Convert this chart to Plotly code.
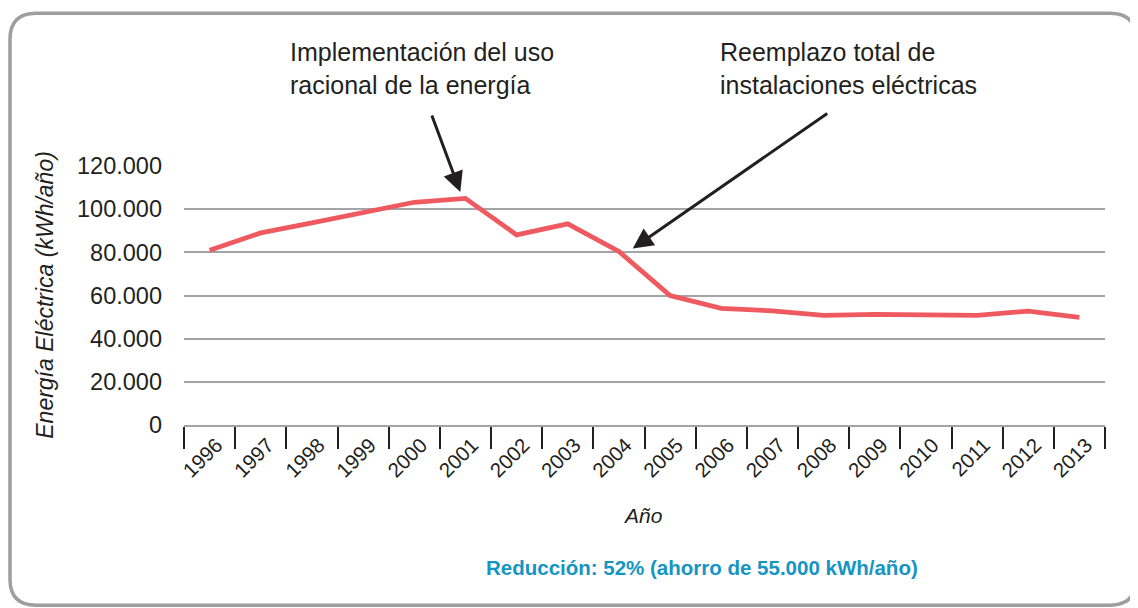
import plotly.graph_objects as go

years = [str(y) for y in range(1996, 2014)]
energy = [81000, 89000, 93600, 98400, 103200, 105000, 88100, 93200, 80400,
          60000, 54000, 52900, 50800, 51300, 50800, 50800, 52800, 49900]
y_ticks = [0, 20000, 40000, 60000, 80000, 100000, 120000]
y_tick_labels = ["0", "20.000", "40.000", "60.000", "80.000", "100.000", "120.000"]

W, H = 1138, 608
OFF = 8  # page offset of the figure inside the browser
# plot area in reference-pixel coordinates
PL, PR, PT, PB = 184, 1105, 166, 425.5
L, T = PL - OFF, PT - OFF
R = W - (PR - OFF)
B = H - (PB - OFF)
PW, PH = PR - PL, PB - PT

def px(x):
    return (x - PL) / PW

def py(y):
    return (PB - y) / PH

TXT = "#231f20"
GRID = "#a3a3a8"
FONT = "Liberation Sans"

fig = go.Figure()
fig.add_trace(go.Scatter(x=years, y=energy, mode="lines",
                         line=dict(color="#ef5a60", width=4.8), hoverinfo="skip"))

# rounded border (reference pixel coordinates)
x0, y0, x1, y1, r = 10, 13, 1136, 606, 26
path = (f"M {px(x0+r)},{py(y0)} L {px(x1-r)},{py(y0)} Q {px(x1)},{py(y0)} {px(x1)},{py(y0+r)} "
        f"L {px(x1)},{py(y1-r)} Q {px(x1)},{py(y1)} {px(x1-r)},{py(y1)} "
        f"L {px(x0+r)},{py(y1)} Q {px(x0)},{py(y1)} {px(x0)},{py(y1-r)} "
        f"L {px(x0)},{py(y0+r)} Q {px(x0)},{py(y0)} {px(x0+r)},{py(y0)} Z")
fig.add_shape(type="path", path=path, xref="paper", yref="paper",
              line=dict(color="#9d9da2", width=3.5), layer="below")

annots = [
    dict(x=4.9, y=108000, xref="x", yref="y", ax=-29, ay=-78, text="",
         showarrow=True, arrowhead=2, arrowsize=1.35, arrowwidth=3, arrowcolor=TXT),
    dict(x=8.27, y=81800, xref="x", yref="y", ax=196, ay=-136, text="",
         showarrow=True, arrowhead=2, arrowsize=1.35, arrowwidth=3, arrowcolor=TXT),
    dict(x=px(288), y=py(68), xref="paper", yref="paper", xanchor="left", yanchor="middle",
         align="left", showarrow=False,
         text="Implementación del uso<br>racional de la energía",
         font=dict(size=25, color=TXT, family=FONT)),
    dict(x=px(718), y=py(68), xref="paper", yref="paper", xanchor="left", yanchor="middle",
         align="left", showarrow=False,
         text="Reemplazo total de<br>instalaciones eléctricas",
         font=dict(size=25, color=TXT, family=FONT)),
    dict(x=px(45), y=py(295), xref="paper", yref="paper", xanchor="center", yanchor="middle",
         textangle=-90, showarrow=False,
         text="<i>Energía Eléctrica (kWh/año)</i>",
         font=dict(size=23, color=TXT, family=FONT)),
    dict(x=px(643), y=py(516), xref="paper", yref="paper", xanchor="center", yanchor="middle",
         showarrow=False, text="<i>Año</i>",
         font=dict(size=21, color=TXT, family=FONT)),
    dict(x=px(702), y=py(568), xref="paper", yref="paper", xanchor="center", yanchor="middle",
         showarrow=False, text="<b>Reducción: 52% (ahorro de 55.000 kWh/año)</b>",
         font=dict(size=20.5, color="#1595c3", family=FONT)),
]
fig.update_layout(annotations=annots)

fig.update_layout(
    width=W, height=H,
    margin=dict(l=L, r=R, t=T, b=B, pad=0),
    paper_bgcolor="white", plot_bgcolor="white",
    showlegend=False,
    font=dict(family=FONT, color=TXT),
    xaxis=dict(type="category", tickson="boundaries", ticks="outside", ticklen=22,
               tickwidth=2, tickcolor=TXT, showgrid=False, tickangle=-45,
               tickfont=dict(size=20.5, color=TXT, family=FONT),
               ticklabelstandoff=-2, ticklabelshift=7,
               showline=True, linecolor=GRID, linewidth=2, zeroline=False,
               range=[-0.5, 17.5], fixedrange=True),
    yaxis=dict(range=[0, 120000], tickvals=y_ticks, ticktext=y_tick_labels,
               showgrid=True, gridcolor=GRID, gridwidth=2, zeroline=False,
               showline=False, ticks="", ticklabelstandoff=21,
               tickfont=dict(size=23.5, color=TXT, family=FONT), fixedrange=True),
)

fig.write_html("out.html")
